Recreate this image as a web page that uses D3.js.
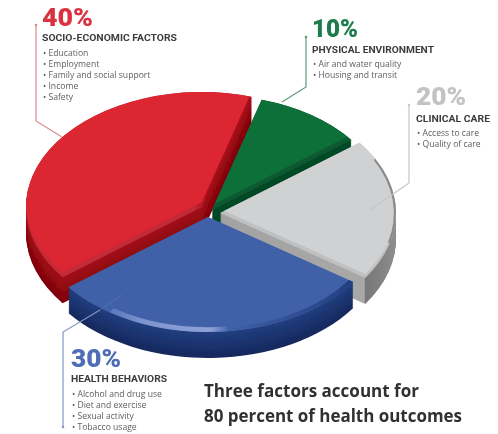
<!DOCTYPE html>
<html><head><meta charset="utf-8">
<script src="https://cdn.jsdelivr.net/npm/d3@7"></script>
<style>html,body{margin:0;padding:0;background:#fff}svg{display:block}text{font-family:Roboto,sans-serif}</style>
</head><body><svg id="c" width="498" height="434"></svg>
<script>
// ---- data ----
const categories = ["SOCIO-ECONOMIC FACTORS","PHYSICAL ENVIRONMENT","CLINICAL CARE","HEALTH BEHAVIORS"];
const shares = [40,10,20,30];
const details = [
  ["Education","Employment","Family and social support","Income","Safety"],
  ["Air and water quality","Housing and transit"],
  ["Access to care","Quality of care"],
  ["Alcohol and drug use","Diet and exercise","Sexual activity","Tobacco usage"]
];
const footerLines = ["Three factors account for","80 percent of health outcomes"];

// ---- layout and style ----
const topColors  = ["#dc2633","#0b7038","#d0d1d3","#3f60a8"];
const wallStops  = [["#a30f19","#7e0208"],["#064c27","#053f20"],["#a6a6a6","#9a9a9a"],["#223f80","#16295e"]];
const textColors = ["#d9333f","#1a7d4b","#c2c3c5","#4f6db5"];
const lineColors = ["#d98d92","#5f9a7b","#c6c6c6","#8496c0"];
const centers = [[202,207],[212,210],[220,213],[208,217]];
const bevelHeights = [5,5,4,0];
const labelPos = [
  {x:42,pct:26,title:41,first:55.5,tw:135,pw:51},
  {x:312,pct:36.5,title:53,first:66.7,tw:122,pw:46},
  {x:416,pct:105,title:122,first:135.7,tw:74,pw:50},
  {x:71,pct:367,title:382,first:397,tw:96,pw:50}
];
const leaders = [
  [[36,25],[36,121],[62,137]],
  [[306,37],[306,87],[282,102]],
  [[409,105],[409,183],[370,210]],
  [[63,427],[63,332],[100,310]]
];
const faintTail = [[100,310],[122,295]];
const footerWidths = [215,258];
const tilt = 115/176, depth = 26;

const svg = d3.select("#c");
const defs = svg.append("defs");
defs.append("filter").attr("id","soft").attr("x","-5%").attr("y","-5%").attr("width","110%").attr("height","110%")
  .append("feGaussianBlur").attr("stdDeviation",0.45);
const root = svg.append("g").attr("filter","url(#soft)");

const horizontal = (id, stops) => {
  const g = defs.append("linearGradient").attr("id",id).attr("x1",0).attr("x2",1).attr("y1",0).attr("y2",0);
  stops.forEach(s=>g.append("stop").attr("offset",s[0]).attr("stop-color",s[1]));
};
horizontal("glint",[[0,"#5a78bb"],[0.3,"#7f95cf"],[0.85,"#8ea2d6"],[1,"#4a68ae"]]);
horizontal("rimDark",[[0,"#3f60a8"],[1,"#22407f"]]);
horizontal("bevelRed",[[0,"#c62c38"],[0.74,"#c22a36"],[0.8,"#aa0f1d"],[1,"#aa0f1d"]]);
horizontal("wallGrey",[[0,"#a2a2a2"],[0.82,"#a8a8a8"],[0.825,"#777777"],[1,"#8d8d8d"]]);
const bevelFills = ["url(#bevelRed)","#0a5a30","#bfc0c2","#3f60a8"];
const wallFill = (i,k) => i===2 ? "url(#wallGrey)" : d3.interpolateRgb(wallStops[i][0],wallStops[i][1])(k/depth);

const r = d3.scaleLinear().domain([0,1]).range([0,176]);
const rad = d3.scaleLinear().domain([0,360]).range([0,2*Math.PI]);
const pie = d3.pie().sort(null).startAngle(rad(232.4)).endAngle(rad(232.4+360));
const arcs = pie(shares);
const sector = d3.arc().innerRadius(0).outerRadius(r(1));
const ring = (a0,a1,ri) => d3.arc().innerRadius(r(ri)).outerRadius(r(1)).startAngle(rad(a0)).endAngle(rad(a1))();
const layers = d3.range(depth,0,-1);

const slices = root.selectAll("g.slice").data(arcs).join("g").attr("class","slice");
slices.each(function(d,i){
  const g = d3.select(this);
  const [cx,cy] = centers[i];
  const place = dy => `translate(${cx},${cy+dy}) scale(1,${tilt})`;
  defs.append("clipPath").attr("id","top"+i).append("path").attr("transform",place(0)).attr("d",sector(d));
  g.selectAll("path.wall").data(layers).join("path").attr("class","wall")
    .attr("transform",k=>place(k)).attr("d",sector(d)).attr("fill",k=>wallFill(i,k));
  g.append("path").attr("transform",place(0)).attr("d",sector(d)).attr("fill",bevelFills[i]);
  g.append("g").attr("clip-path",`url(#top${i})`).append("path")
    .attr("transform",place(-bevelHeights[i])).attr("d",sector(d)).attr("fill",topColors[i]);
});

// rim highlights and shadows on the top faces
const rim = (i,a0,a1,ri,fill) => root.append("path")
  .attr("transform",`translate(${centers[i][0]},${centers[i][1]}) scale(1,${tilt})`)
  .attr("d",ring(a0,a1,ri)).attr("fill",fill);
rim(3,173.5,214,0.958,"url(#glint)");
rim(3,124.4,173.5,0.97,"url(#rimDark)");
rim(2,62,105,0.988,"#8a8a8a");

// leader lines
const lineGen = d3.line();
root.selectAll("path.leader").data(leaders).join("path").attr("class","leader")
  .attr("d",lineGen).attr("fill","none").attr("stroke-width",1.2)
  .attr("stroke",(d,i)=>lineColors[i]);
root.append("path").attr("d",lineGen(faintTail)).attr("fill","none")
  .attr("stroke",lineColors[3]).attr("stroke-width",1).attr("stroke-opacity",0.3);
root.selectAll("circle.cap").data(leaders).join("circle").attr("class","cap")
  .attr("cx",d=>d[0][0]).attr("cy",d=>d[0][1]).attr("r",1.3)
  .attr("fill",(d,i)=>lineColors[i]);

// labels
const labels = root.selectAll("g.label").data(categories).join("g").attr("class","label");
labels.each(function(name,i){
  const g = d3.select(this), p = labelPos[i];
  g.append("text").attr("x",p.x).attr("y",p.pct).text(shares[i]+"%")
    .attr("font-size",26.5).attr("font-weight",900).attr("fill",textColors[i])
    .attr("textLength",p.pw).attr("lengthAdjust","spacingAndGlyphs");
  g.append("text").attr("x",p.x).attr("y",p.title).text(name)
    .attr("font-size",9).attr("font-weight",700).attr("fill","#3c3c3e")
    .attr("textLength",p.tw).attr("lengthAdjust","spacingAndGlyphs");
  g.selectAll("text.item").data(details[i]).join("text").attr("class","item")
    .attr("x",p.x+1).attr("y",(d,j)=>p.first+j*11)
    .text(d=>"• "+d).attr("font-size",8.6).attr("fill","#5e6063")
    .style("font-family","'Open Sans',sans-serif");
});

// footer
root.selectAll("text.footer").data(footerLines).join("text").attr("class","footer")
  .attr("x",204).attr("y",(d,i)=>397+i*24.7).text(d=>d)
  .attr("font-size",17.4).attr("font-weight",700).attr("fill","#2f3032")
  .attr("textLength",(d,i)=>footerWidths[i]).attr("lengthAdjust","spacingAndGlyphs")
  .style("font-family","'Open Sans',sans-serif");
</script></body></html>
